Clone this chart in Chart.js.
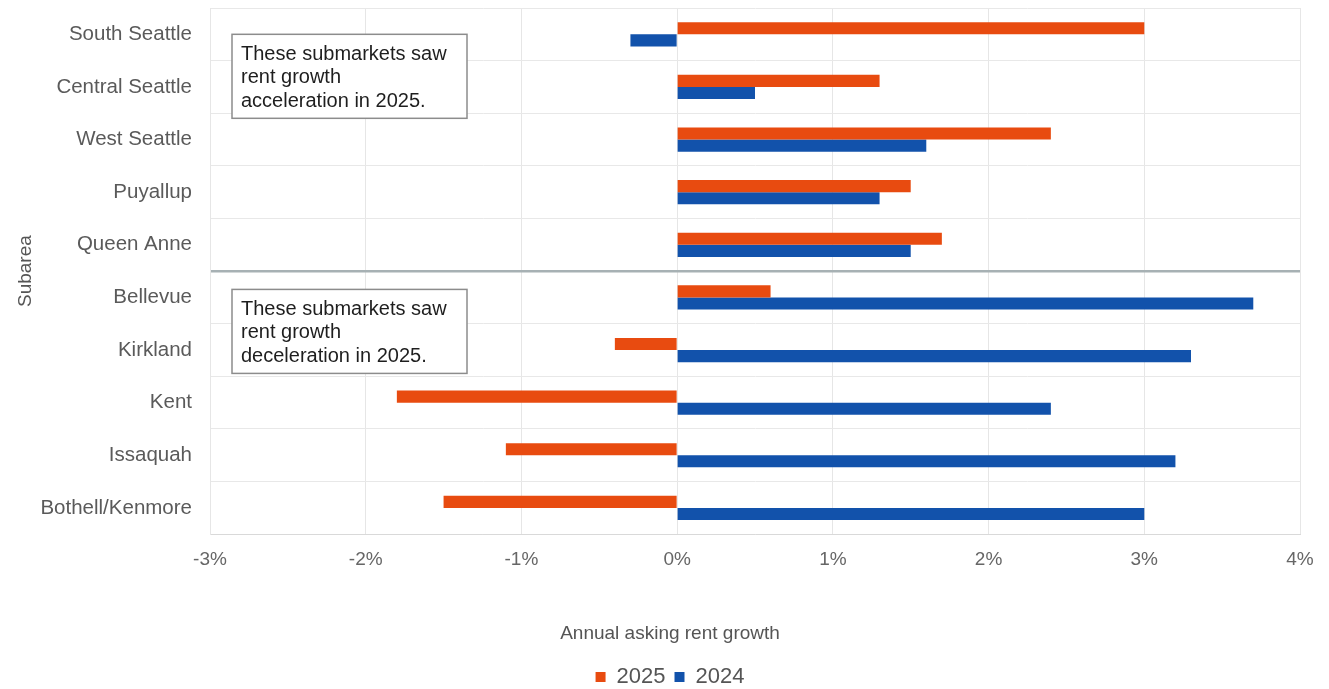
<!DOCTYPE html>
<html>
<head>
<meta charset="utf-8">
<script src="https://cdn.jsdelivr.net/npm/chart.js@4"></script>
<style>
    html, body { margin: 0; padding: 0; background: #fff; overflow: hidden; }
    #wrap { width: 1329px; height: 698px; }
</style>
</head>
<body>
<div id="wrap"><canvas id="rentChart" width="1329" height="698"></canvas></div>
<script>
// Datos de la gráfica
const subareas = ['South Seattle', 'Central Seattle', 'West Seattle', 'Puyallup', 'Queen Anne',
    'Bellevue', 'Kirkland', 'Kent', 'Issaquah', 'Bothell/Kenmore'];
const growth2025 = [3.0, 1.3, 2.4, 1.5, 1.7, 0.6, -0.4, -1.8, -1.1, -1.5];
const growth2024 = [-0.3, 0.5, 1.6, 1.3, 1.5, 3.7, 3.3, 2.4, 3.2, 3.0];
const xTicks = [-3, -2, -1, 0, 1, 2, 3, 4];
const noteAccel = ['These submarkets saw', 'rent growth', 'acceleration in 2025.'];
const noteDecel = ['These submarkets saw', 'rent growth', 'deceleration in 2025.'];

const FONT = '"Liberation Sans", Arial, sans-serif';

// Plugin para dibujar las cajas de texto
const notesPlugin = {
    id: 'notes',
    afterDatasetsDraw: (chart) => {
        const ctx = chart.ctx;
        const x = chart.scales.x;
        const y = chart.scales.y;
        const boxes = [
            { lines: noteAccel, top: y.getPixelForValue(0) },
            { lines: noteDecel, top: y.getPixelForValue(5) - 8 }
        ];
        const left = x.getPixelForValue(xTicks[0]) + 22;
        ctx.save();
        boxes.forEach(b => {
            ctx.fillStyle = '#fff';
            ctx.fillRect(left, b.top, 235, 84);
            ctx.strokeStyle = '#8c8c8c';
            ctx.lineWidth = 1.5;
            ctx.strokeRect(left, b.top, 235, 84);
            ctx.fillStyle = '#1e1e1e';
            ctx.font = '20px ' + FONT;
            ctx.textBaseline = 'middle';
            ctx.textAlign = 'left';
            b.lines.forEach((t, i) => {
                ctx.fillText(t, left + 9, b.top + 20 + i * 23.5);
            });
        });
        ctx.restore();
    }
};

const rentCtx = document.getElementById('rentChart').getContext('2d');
const rentChart = new Chart(rentCtx, {
    type: 'bar',
    data: {
        labels: subareas,
        datasets: [{
            label: '2025',
            data: growth2025,
            backgroundColor: '#e84b10',
            borderWidth: 0
        }, {
            label: '2024',
            data: growth2024,
            backgroundColor: '#1252ab',
            borderWidth: 0
        }]
    },
    options: {
        indexAxis: 'y',
        responsive: false,
        animation: false,
        devicePixelRatio: 1,
        categoryPercentage: 0.46,
        barPercentage: 1.0,
        layout: {
            padding: { left: 40, right: 29, top: 8, bottom: 0 }
        },
        plugins: {
            tooltip: { enabled: false },
            title: {
                display: true,
                position: 'bottom',
                weight: 500,
                text: 'Annual asking rent growth',
                color: '#555',
                font: { family: FONT, size: 19, weight: 'normal' },
                padding: { top: 10, bottom: 12 }
            },
            legend: {
                position: 'bottom',
                weight: 2000,
                labels: {
                    boxWidth: 10,
                    boxHeight: 10,
                    padding: 9,
                    color: '#555',
                    font: { family: FONT, size: 22 }
                }
            }
        },
        scales: {
            x: {
                min: -3,
                max: 4,
                afterBuildTicks: (scale) => {
                    scale.ticks = xTicks.map(v => ({ value: v }));
                },
                afterFit: (scale) => {
                    scale.height = 78;
                    scale.paddingTop = 0;
                    scale.paddingBottom = 0;
                },
                grid: { color: '#e6e6e6', drawTicks: false },
                border: { color: '#d9d9d9' },
                ticks: {
                    padding: 14,
                    color: '#666',
                    font: { family: FONT, size: 19 },
                    callback: (v) => v + '%'
                }
            },
            y: {
                afterFit: (scale) => {
                    scale.width = 170;
                    scale.paddingTop = 0;
                    scale.paddingBottom = 0;
                },
                grid: {
                    drawTicks: false,
                    color: (c) => c.index === 5 ? '#a7b1b4' : '#e8e8e8',
                    lineWidth: (c) => c.index === 5 ? 2.5 : 1
                },
                border: { color: '#e6e6e6' },
                ticks: {
                    padding: 18,
                    color: '#5a5a5a',
                    font: { family: FONT, size: 20.5 }
                },
                title: {
                    display: true,
                    text: 'Subarea',
                    color: '#555',
                    font: { family: FONT, size: 19 },
                    padding: { top: -26, bottom: 0 }
                }
            }
        }
    },
    plugins: [notesPlugin]
});
</script>
</body>
</html>
